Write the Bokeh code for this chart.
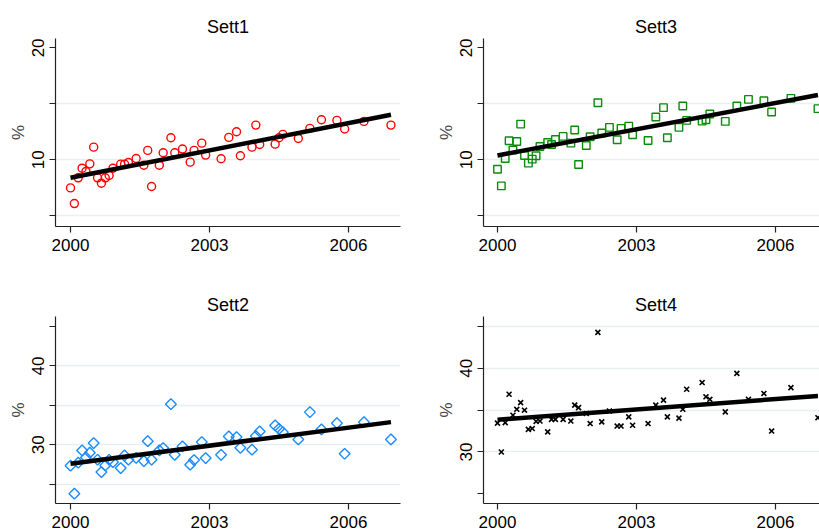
from bokeh.plotting import figure
from bokeh.layouts import column, row
from bokeh.models import FixedTicker, Range1d
from bokeh.embed import file_html
from bokeh.resources import INLINE
from jinja2 import Template

# ---- data (months since 2000m1) ----
months = [0, 1, 2, 3, 4, 5, 6, 7, 8, 9, 10, 11, 13, 14, 15, 17, 19, 20, 21, 23, 24,
          26, 27, 29, 31, 32, 34, 35, 39, 41, 43, 44, 47, 48, 49, 53, 54, 55, 59,
          62, 65, 69, 71, 76, 83]

sett1 = [7.49, 6.09, 8.39, 9.25, 8.96, 9.64, 11.13, 8.39, 7.91, 8.39, 8.6, 9.25,
         9.61, 9.61, 9.76, 10.12, 9.52, 10.84, 7.61, 9.52, 10.63,
         11.97, 10.63, 10.96, 9.79, 10.84, 11.49, 10.42,
         10.09, 12.0, 12.51, 10.36, 11.13, 13.1, 11.37,
         11.4, 11.97, 12.27, 11.91, 12.81, 13.58, 13.52, 12.75, 13.43, 13.1]

sett3 = [9.16, 7.67, 10.12, 11.7, 10.87, 11.64, 13.19, 10.39, 9.7, 10.06, 10.36, 11.19,
         11.55, 11.37, 11.82, 12.09, 11.49, 12.66, 9.58, 11.28, 12.06,
         15.1, 12.39, 12.9, 11.79, 12.81, 13.01, 12.24,
         11.73, 13.82, 14.66, 11.97, 12.9, 14.81, 13.52,
         13.46, 13.58, 14.09, 13.43, 14.81, 15.4, 15.28, 14.27, 15.49, 14.57]

sett2 = [27.34, 23.8, 27.72, 29.28, 28.4, 28.99, 30.21, 28.1, 26.54, 27.38, 28.1, 27.8,
         27.05, 28.65, 28.1, 28.35, 27.93, 30.46, 28.1, 29.28, 29.58,
         35.15, 28.73, 29.79, 27.47, 28.06, 30.34, 28.31,
         28.73, 31.05, 30.97, 29.62, 29.37, 31.1, 31.69,
         32.45, 32.03, 31.6, 30.68, 34.14, 31.94, 32.74, 28.86, 32.87, 30.68]

sett4 = [33.45, 30.0, 33.5, 36.9, 34.4, 35.1, 35.9, 35.0, 32.7, 32.8, 33.65, 33.7,
         32.4, 33.9, 33.9, 33.9, 33.7, 35.6, 35.3, 34.6, 33.4,
         44.3, 33.6, 34.9, 33.1, 33.1, 34.2, 33.2,
         33.4, 35.6, 36.2, 34.2, 34.05, 35.1, 37.5,
         38.3, 36.6, 36.3, 34.8, 39.4, 36.3, 37.0, 32.5, 37.7, 34.1]

# fitted-line end values (at first and last month)
fit_months = [0, 83]
fit1 = [8.39, 14.03]
fit3 = [10.39, 15.79]
fit2 = [27.6, 32.87]
fit4 = [33.85, 36.7]

x_ticks = [2000, 2003, 2006]
y_ticks_low = [5, 10, 15, 20]
y_labels_low = [10, 20]
y_grid_low = [5, 10, 15]
y_ticks_high = [25, 30, 35, 40, 45]
y_labels_high = [30, 40]
y_grid_sett2 = [25, 30, 35, 40]
y_grid_sett4 = [30, 35, 40, 45]

titles = ["Sett1", "Sett3", "Sett2", "Sett4"]

FONT = "Liberation Sans"
years = [2000 + m / 12 for m in months]
fit_years = [2000 + m / 12 for m in fit_months]


def make_panel(title, yvals, fitvals, yrange, yticks, ylabels, ygrid, marker, color,
               left, width, top, height, xstart):
    p = figure(width=width, height=height, output_backend="svg", toolbar_location=None,
               x_range=Range1d(xstart, xstart + 345 / 46.33), y_range=Range1d(*yrange),
               min_border_left=left, min_border_right=width - left - 345,
               min_border_top=top, min_border_bottom=height - top - (188 if top == 38 else 187),
               background_fill_color="white", border_fill_color="white")
    p.outline_line_color = None
    p.title.text = title
    p.title.align = "center"
    p.title.text_font = FONT
    p.title.text_font_size = "18px"
    p.title.text_font_style = "normal"
    p.title.text_color = "black"
    p.title.standoff = 4

    p.xgrid.visible = False
    p.ygrid.ticker = FixedTicker(ticks=ygrid)
    p.ygrid.grid_line_color = "#e7eff1"
    p.ygrid.grid_line_width = 1.5

    for ax in (p.xaxis[0], p.yaxis[0]):
        ax.axis_line_color = "#222222"
        ax.axis_line_width = 1.2
        ax.major_tick_line_color = "#222222"
        ax.major_tick_line_width = 1.2
        ax.major_tick_out = 6
        ax.major_tick_in = 0
        ax.minor_tick_line_color = None
        ax.major_label_text_font = FONT
        ax.major_label_text_font_size = "17px"
        ax.major_label_text_color = "black"

    p.xaxis.ticker = FixedTicker(ticks=x_ticks)
    p.xaxis.major_label_standoff = 6

    p.yaxis.ticker = FixedTicker(ticks=yticks)
    p.yaxis.major_label_overrides = {t: ("" if t not in ylabels else str(t)) for t in yticks}
    p.yaxis.major_label_orientation = "vertical"
    p.yaxis.major_label_standoff = 5
    p.yaxis.axis_label = "%"
    p.yaxis.axis_label_text_font = FONT
    p.yaxis.axis_label_text_font_size = "17px"
    p.yaxis.axis_label_text_font_style = "normal"
    p.yaxis.axis_label_standoff = 2

    if marker == "diamond":
        p.scatter(years, yvals, marker="square", size=7.6, angle=0.785398,
                  fill_color=None, line_color=color, line_width=1.4)
    elif marker == "x":
        p.scatter(years, yvals, marker="x", size=7, line_color=color, line_width=1.6)
    else:
        p.scatter(years, yvals, marker=marker, size=8 if marker == "circle" else 7.5,
                  fill_color=None, line_color=color, line_width=1.4)

    p.line(fit_years, fitvals, line_color="black", line_width=4.5)
    return p


low = (4.04, 20.84)
p1 = make_panel(titles[0], sett1, fit1, low, y_ticks_low, y_labels_low, y_grid_low,
                "circle", "#ff0000", 55, 410, 38, 265, 1999.676)
p3 = make_panel(titles[1], sett3, fit3, low, y_ticks_low, y_labels_low, y_grid_low,
                "square", "#0a8c0a", 73, 418, 38, 265, 1999.698)
p2 = make_panel(titles[2], sett2, fit2, (22.55, 46.27), y_ticks_high, y_labels_high,
                y_grid_sett2, "diamond", "#1a8cff", 55, 410, 51, 280, 1999.676)
p4 = make_panel(titles[3], sett4, fit4, (23.84, 46.2), y_ticks_high, y_labels_high,
                y_grid_sett4, "x", "black", 73, 418, 51, 280, 1999.698)

layout = column(row(p1, p3, spacing=0), row(p2, p4, spacing=0), spacing=0)

TEMPLATE = Template("""{% extends base %}
{% block preamble %}<style>html, body { overflow: hidden; }</style>{% endblock %}""")

open("out.html", "w").write(file_html(layout, INLINE, template=TEMPLATE))
